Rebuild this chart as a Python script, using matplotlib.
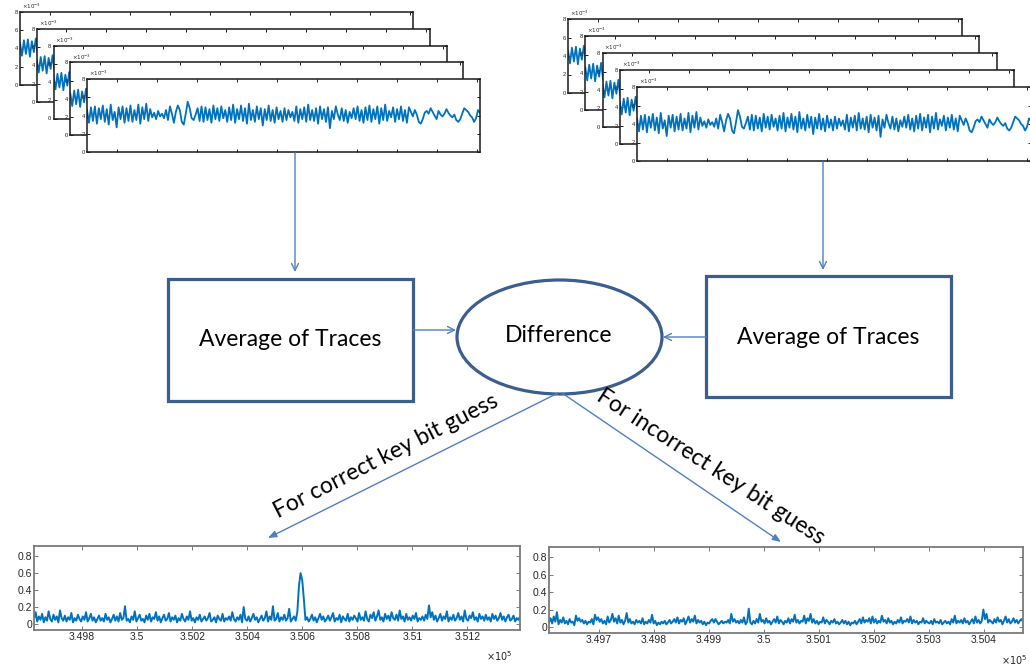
import numpy as np
import matplotlib
matplotlib.use("Agg")
import matplotlib.pyplot as plt
from matplotlib.patches import Rectangle, Ellipse
from matplotlib.ticker import FuncFormatter

# ---------------- data ----------------
# power trace (units of 1e-3), same trace drawn in every stacked panel
trace_values = [
    4.6,3.2,4.9,3.4,5.0,3.1,4.8,3.6,5.1,3.3,4.7,3.0,5.2,3.5,4.4,2.7,4.9,3.6,5.0,3.2,
    4.8,3.4,5.1,3.3,4.6,3.5,5.2,3.1,4.9,3.6,5.3,3.4,4.7,3.8,4.3,3.6,4.5,3.9,4.2,3.7,
    4.6,3.5,5.0,4.2,3.2,4.4,5.1,4.6,3.3,3.0,4.2,5.5,4.8,3.7,3.5,4.1,4.8,3.4,5.0,3.3,
    4.9,3.5,4.7,3.2,5.1,3.6,4.8,3.4,5.0,3.7,4.6,3.3,4.9,3.5,5.2,3.2,4.7,3.6,5.1,3.4,
    4.8,3.1,5.3,3.5,4.6,3.3,5.0,3.6,4.8,2.9,4.7,3.5,5.1,3.4,4.6,3.2,4.9,3.6,4.5,3.3,
    4.8,3.5,4.6,3.8,4.4,3.4,5.0,3.2,4.7,3.6,4.9,3.3,5.2,3.5,4.6,3.4,4.8,3.1,5.0,3.6,
    4.7,3.3,4.9,2.6,4.5,3.6,5.0,4.1,3.5,4.8,3.4,4.6,3.2,4.4,3.7,4.8,3.6,5.0,3.4,4.6,
    3.2,4.9,3.5,5.1,3.3,4.7,3.6,5.0,3.1,4.8,3.5,5.2,3.4,4.5,3.8,4.9,3.3,4.7,3.6,5.0,
    3.4,4.6,3.2,4.9,4.4,3.9,4.6,4.1,3.3,3.1,3.6,4.3,4.5,4.2,4.8,4.4,4.0,3.6,4.5,4.1,
    3.9,4.2,4.7,4.3,4.0,3.8,4.1,3.5,3.3,3.6,4.2,4.8,4.6,4.4,4.0,3.8,3.3,3.7,4.6,4.3,
]
trace_yticks = [0, 2, 4, 6, 8]

# difference of averages, correct key bit guess
correct_x_start = 349625
correct_x_stop = 351391
correct_values = [
    0.06,0.14,0.03,0.09,0.05,0.12,0.02,0.08,0.04,0.15,0.06,0.03,0.11,0.05,0.09,0.02,0.16,0.07,0.04,0.10,
    0.03,0.08,0.05,0.13,0.02,0.07,0.04,0.11,0.06,0.03,0.09,0.05,0.14,0.03,0.07,0.12,0.04,0.08,0.02,0.06,
    0.10,0.04,0.07,0.03,0.12,0.05,0.08,0.02,0.06,0.11,0.04,0.09,0.03,0.13,0.05,0.07,0.21,0.04,0.06,0.02,
    0.09,0.05,0.15,0.03,0.07,0.11,0.04,0.06,0.02,0.10,0.05,0.12,0.03,0.08,0.06,0.14,0.04,0.09,0.02,0.07,
    0.11,0.04,0.06,0.13,0.03,0.08,0.05,0.10,0.02,0.07,0.04,0.12,0.06,0.03,0.09,0.05,0.15,0.04,0.07,0.02,
    0.08,0.05,0.11,0.03,0.06,0.09,0.04,0.07,0.13,0.03,0.05,0.08,0.02,0.10,0.06,0.04,0.12,0.03,0.07,0.05,
    0.09,0.04,0.14,0.06,0.03,0.08,0.05,0.11,0.02,0.20,0.06,0.04,0.09,0.03,0.07,0.12,0.05,0.08,0.02,0.06,
    0.10,0.04,0.07,0.15,0.03,0.09,0.05,0.21,0.04,0.06,0.13,0.03,0.08,0.05,0.11,0.04,0.07,0.18,0.03,0.06,
    0.09,0.04,0.14,0.45,0.60,0.52,0.30,0.05,0.08,0.03,0.06,0.11,0.04,0.08,0.02,0.07,0.12,0.05,0.09,0.03,
    0.06,0.10,0.04,0.08,0.13,0.03,0.07,0.05,0.11,0.02,0.09,0.06,0.04,0.12,0.03,0.08,0.05,0.10,0.07,0.03,
    0.13,0.05,0.08,0.04,0.15,0.06,0.03,0.11,0.07,0.14,0.04,0.09,0.16,0.05,0.08,0.03,0.12,0.06,0.10,0.04,
    0.14,0.07,0.05,0.11,0.04,0.16,0.06,0.09,0.03,0.12,0.05,0.08,0.04,0.10,0.06,0.13,0.03,0.07,0.05,0.09,
    0.04,0.11,0.06,0.22,0.08,0.14,0.05,0.10,0.03,0.07,0.12,0.04,0.09,0.06,0.15,0.03,0.08,0.05,0.11,0.04,
    0.07,0.13,0.05,0.09,0.03,0.16,0.06,0.04,0.10,0.07,0.14,0.05,0.08,0.03,0.12,0.06,0.09,0.04,0.11,0.05,
    0.08,0.03,0.12,0.06,0.10,0.04,0.07,0.13,0.05,0.09,0.03,0.08,0.11,0.04,0.06,0.10,0.03,0.07,0.05,0.09,
]
correct_xticks = [349800, 350000, 350200, 350400, 350600, 350800, 351000, 351200]

# difference of averages, incorrect key bit guess
incorrect_x_start = 349609
incorrect_x_stop = 350471
incorrect_values = [
    0.05,0.10,0.04,0.12,0.06,0.17,0.03,0.08,0.05,0.11,0.04,0.07,0.03,0.09,0.05,0.06,0.02,0.13,0.07,0.10,
    0.06,0.08,0.04,0.07,0.03,0.06,0.05,0.09,0.03,0.14,0.08,0.11,0.06,0.09,0.04,0.07,0.03,0.12,0.05,0.08,
    0.15,0.06,0.10,0.04,0.13,0.05,0.08,0.03,0.07,0.16,0.05,0.09,0.04,0.06,0.03,0.08,0.05,0.07,0.04,0.10,
    0.03,0.06,0.04,0.08,0.05,0.14,0.04,0.07,0.02,0.05,0.03,0.06,0.04,0.07,0.03,0.05,0.08,0.04,0.06,0.09,
    0.05,0.11,0.04,0.08,0.06,0.10,0.03,0.07,0.12,0.05,0.09,0.06,0.13,0.04,0.08,0.05,0.07,0.03,0.06,0.02,
    0.05,0.04,0.07,0.09,0.05,0.09,0.06,0.03,0.05,0.07,0.04,0.06,0.05,0.08,0.04,0.15,0.06,0.09,0.05,0.07,
    0.04,0.08,0.05,0.11,0.03,0.06,0.21,0.05,0.03,0.07,0.04,0.09,0.05,0.15,0.06,0.08,0.04,0.10,0.05,0.07,
    0.03,0.06,0.09,0.05,0.12,0.04,0.08,0.06,0.03,0.07,0.05,0.10,0.04,0.09,0.06,0.14,0.05,0.08,0.04,0.07,
    0.06,0.13,0.04,0.10,0.07,0.15,0.05,0.09,0.04,0.07,0.03,0.06,0.05,0.11,0.04,0.08,0.06,0.03,0.07,0.05,
    0.09,0.04,0.06,0.03,0.05,0.08,0.04,0.07,0.03,0.06,0.02,0.05,0.04,0.07,0.03,0.06,0.09,0.04,0.11,0.05,
    0.08,0.06,0.10,0.04,0.12,0.05,0.09,0.04,0.07,0.05,0.13,0.06,0.08,0.04,0.10,0.05,0.07,0.03,0.06,0.04,
    0.08,0.05,0.11,0.04,0.07,0.06,0.09,0.05,0.12,0.04,0.08,0.05,0.07,0.03,0.06,0.05,0.10,0.04,0.07,0.05,
    0.04,0.07,0.03,0.09,0.05,0.06,0.04,0.08,0.03,0.05,0.07,0.04,0.06,0.03,0.09,0.05,0.13,0.04,0.07,0.05,
    0.08,0.04,0.10,0.05,0.07,0.03,0.06,0.09,0.04,0.12,0.05,0.08,0.04,0.07,0.20,0.09,0.15,0.05,0.08,0.06,
    0.04,0.09,0.05,0.11,0.06,0.08,0.03,0.07,0.12,0.05,0.09,0.04,0.06,0.10,0.05,0.08,0.04,0.07,0.09,0.06,
]
incorrect_xticks = [349700, 349800, 349900, 350000, 350100, 350200, 350300, 350400]
diff_yticks = [0, 0.2, 0.4, 0.6, 0.8]

box_label = "Average of Traces"
ellipse_label = "Difference"
correct_label = "For correct key bit guess"
incorrect_label = "For incorrect key bit guess"

# ---------------- figure ----------------
W, H = 1030, 668
fig = plt.figure(figsize=(W / 100, H / 100), dpi=100)
fig.patch.set_facecolor("white")

LINE = "#0072BD"
TXT = "#262626"
ARROW = "#4F81BD"
OUTLINE = "#3B5E8C"
DIAG_FONT = ["Lato", "DejaVu Sans"]
TICK_FONT = ["Liberation Sans", "DejaVu Sans"]
FS = 16.5


def rect(l, t, r, b):
    return [l / W, 1 - b / H, (r - l) / W, (b - t) / H]


def matlab_axes(ax, edge, lw, fs, tl):
    for s in ax.spines.values():
        s.set_color(edge)
        s.set_linewidth(lw)
    ax.tick_params(direction="in", top=True, right=True, length=tl, width=0.7,
                   colors=edge, labelcolor=TXT, labelsize=fs, pad=1.5)
    for lab in ax.get_xticklabels() + ax.get_yticklabels():
        lab.set_family(TICK_FONT)


def trace_stack(l0, t0, w, h, dx, dy, n=5):
    tx = np.arange(len(trace_values))
    n_s = len(trace_values) - 1
    for i in range(n):
        l = l0 + dx * i
        t = t0 + dy * i
        ax = fig.add_axes(rect(l, t, l + w, t + h))
        ax.set_facecolor("white")
        ax.plot(tx, trace_values, color=LINE, lw=1.3)
        ax.set_xlim(0, n_s)
        ax.set_ylim(0, 8)
        ax.set_yticks(trace_yticks)
        ax.set_xticks([n_s * (29.5 + 40 * k) / w for k in range(10) if 29.5 + 40 * k < w - 2])
        ax.set_xticklabels([])
        matlab_axes(ax, "#1a1a1a", 1.1, 4.2, 2.5)
        ax.text(0.005, 1.01, r"$\times10^{-3}$", transform=ax.transAxes,
                fontsize=4.0, color=TXT, ha="left", va="bottom")


trace_stack(20, 12, 393, 73, 16.75, 16.75)
trace_stack(568, 19, 394, 74, 17.25, 17.0)


def diff_plot(box, x0, x1, vals, xticks):
    ax = fig.add_axes(rect(*box))
    ax.set_facecolor("white")
    xs = np.linspace(x0, x1, len(vals))
    ax.plot(xs, vals, color=LINE, lw=1.4)
    ax.set_xlim(x0, x1)
    ax.set_ylim(-0.07, 0.92)
    ax.set_yticks(diff_yticks)
    ax.set_xticks(xticks)
    ax.xaxis.set_major_formatter(FuncFormatter(lambda v, p: "%g" % round(v / 1e5, 4)))
    ax.yaxis.set_major_formatter(FuncFormatter(lambda v, p: "%g" % round(v, 2)))
    matlab_axes(ax, "#7a7a7a", 1.3, 7.5, 3)
    return ax


axl = diff_plot((34, 546, 520, 630), correct_x_start, correct_x_stop, correct_values, correct_xticks)
axr = diff_plot((549, 547, 1023, 633), incorrect_x_start, incorrect_x_stop, incorrect_values, incorrect_xticks)

# ---------------- diagram overlay ----------------
ov = fig.add_axes([0, 0, 1, 1])
ov.set_xlim(0, W)
ov.set_ylim(H, 0)
ov.axis("off")
ov.patch.set_alpha(0)
ov.set_zorder(10)

ov.text(499, 656, r"$\times10^{5}$", fontsize=7, color=TXT, ha="center", va="center")
ov.text(1014, 660, r"$\times10^{5}$", fontsize=7, color=TXT, ha="center", va="center")

ov.add_patch(Rectangle((168, 279), 245, 122, fill=False, ec=OUTLINE, lw=2.3))
ov.add_patch(Rectangle((706, 276), 245, 121, fill=False, ec=OUTLINE, lw=2.3))
ov.add_patch(Ellipse((559.5, 337), 205, 114, fc="white", ec=OUTLINE, lw=2.3))

ov.text(290, 340, box_label, ha="center", va="center", fontsize=FS, family=DIAG_FONT, color="black")
ov.text(828, 337, box_label, ha="center", va="center", fontsize=FS, family=DIAG_FONT, color="black")
ov.text(559, 336, ellipse_label, ha="center", va="center", fontsize=FS, family=DIAG_FONT, color="black")


def arrow(p0, p1, style):
    ov.annotate("", xy=p1, xytext=p0,
                arrowprops=dict(arrowstyle=style, color=ARROW, lw=1.0,
                                shrinkA=0, shrinkB=0))


arrow((295, 153), (295, 272), "->,head_length=0.5,head_width=0.25")
arrow((823, 162), (823, 270), "->,head_length=0.5,head_width=0.25")
arrow((413, 330), (456, 330), "->,head_length=0.5,head_width=0.25")
arrow((706, 337), (663, 337), "->,head_length=0.5,head_width=0.25")
arrow((558, 393), (268, 538), "-|>,head_length=0.5,head_width=0.2")
arrow((562, 393), (781, 542), "-|>,head_length=0.5,head_width=0.2")

ov.text(386, 456, correct_label, rotation=27, rotation_mode="anchor", ha="center",
        va="center", fontsize=FS, family=DIAG_FONT, color="black")
ov.text(711, 467, incorrect_label, rotation=-33, rotation_mode="anchor", ha="center",
        va="center", fontsize=FS, family=DIAG_FONT, color="black")

fig.savefig("out.png", dpi=100, facecolor="white")
